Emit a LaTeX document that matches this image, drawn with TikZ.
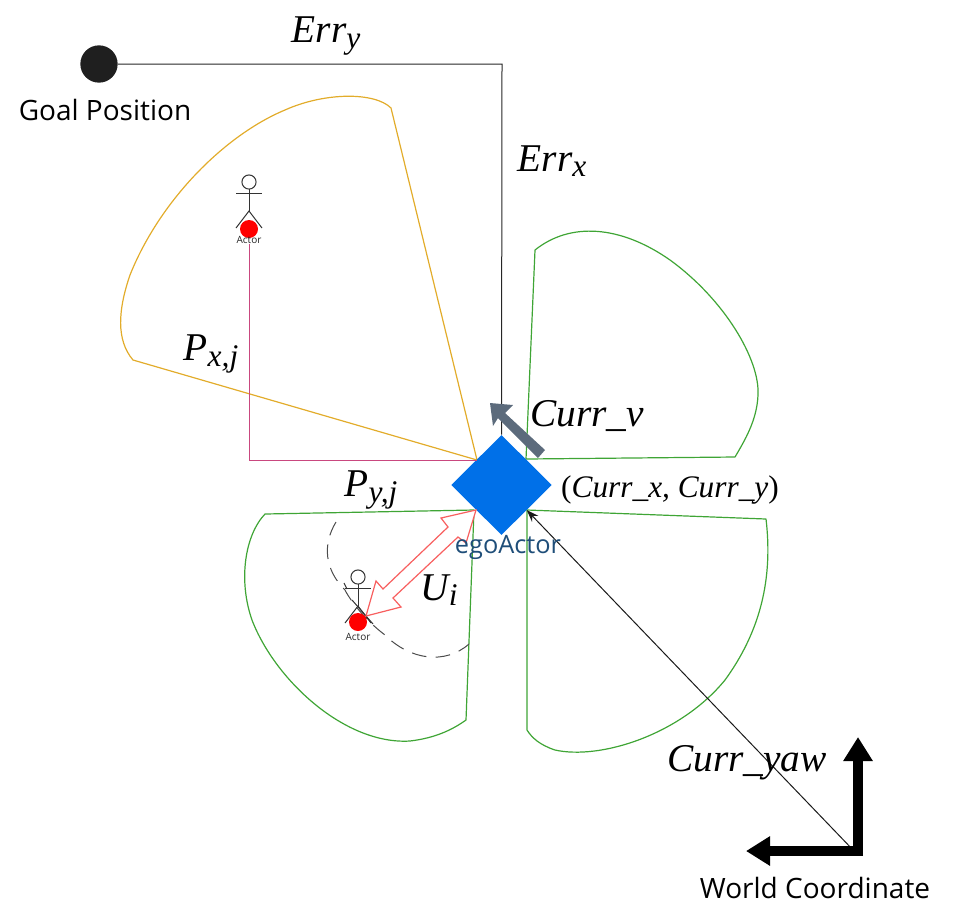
\documentclass[tikz,border=0pt]{standalone}
\usepackage{fontspec}
\setmainfont{Liberation Serif}
\newfontfamily\lblfont{Open Sans}
\usetikzlibrary{shapes.geometric,arrows.meta}
\definecolor{yel}{HTML}{E2AC2B}
\definecolor{grn}{HTML}{3FA535}
\definecolor{pnk}{HTML}{C9487F}
\definecolor{ego}{HTML}{0070E8}
\definecolor{egot}{HTML}{1F4E79}
\definecolor{gry}{HTML}{5C6B7C}
\definecolor{redl}{HTML}{F85F5F}
\newcommand{\mvar}[2]{\textit{#1}\raisebox{-0.3ex}{\scalebox{0.8}{\textit{#2}}}}
\tikzset{
  sector/.style={line width=0.9pt,line join=round},
  mathlbl/.style={font=\fontsize{29.5}{32}\selectfont\itshape,inner sep=0pt},
  sanslbl/.style={font=\lblfont\fontsize{21}{24}\selectfont,inner sep=0pt},
  actorline/.style={line width=0.75pt,black!80},
  dot/.style={circle,fill=red,inner sep=0pt,minimum size=13.5pt},
  actorlbl/.style={font=\lblfont\fontsize{7.5}{9}\selectfont,inner sep=0pt,black!85},
}
\newcommand{\stickman}[2]{%
  \draw[actorline] (#1,#2) circle (5.3pt);
  \draw[actorline] (#1,#2+7) -- (#1,#2+29);
  \draw[actorline] (#1-13,#2+11) -- (#1+13,#2+11);
  \draw[actorline] (#1-13,#2+46) -- (#1,#2+29) -- (#1+13,#2+46);
}
\begin{document}
\begin{tikzpicture}[x=0.75pt,y=-0.75pt]
\useasboundingbox (0,0) rectangle (969,922);
% sectors
\draw[sector,yel] (477,460) -- (391,108) .. controls (375,92) and (325,92) .. (285,110)
  .. controls (225,135) and (160,200) .. (130,275) .. controls (118,310) and (116,340) .. (133,360) -- cycle;
\draw[sector,grn] (526,459) -- (535,250) .. controls (570,222) and (620,225) .. (670,260)
  .. controls (725,300) and (760,360) .. (758,395) .. controls (757,420) and (745,440) .. (735,457) -- cycle;
\draw[sector,grn] (527,510) -- (766,519) .. controls (772,570) and (765,625) .. (725,680)
  .. controls (680,735) and (600,760) .. (555,750) .. controls (540,745) and (532,738) .. (527,730) -- cycle;
\draw[sector,grn] (474,510) -- (265,514) .. controls (245,535) and (238,580) .. (252,620)
  .. controls (275,680) and (345,745) .. (410,741) .. controls (435,738) and (452,730) .. (466,720) -- cycle;
% dashed arc
\draw[line width=0.75pt,black!70,dash pattern=on 11pt off 7pt]
  (336,522) .. controls (322,545) and (325,570) .. (345,590) .. controls (350,600) and (365,620) .. (385,635)
  .. controls (410,660) and (445,665) .. (469,644);
% goal and ego
\node[circle,fill=black!88,inner sep=0pt,minimum size=28pt] (goal) at (99,64) {};
\node[diamond,fill=ego,inner sep=0pt,minimum width=75.5pt,minimum height=75pt,aspect=1] (egoa) at (501.5,485) {};
\coordinate (errc) at (502,64);
\draw[line width=0.75pt,black!85] (goal) -- (errc) -- (egoa.north);
% actor 1
\stickman{249}{182}
\node[dot] (act1) at (249,229) {};
\node[actorlbl] (act1t) at (249,240) {Actor};
\coordinate (pc) at (249,460);
\coordinate (pe) at (477,460);
\draw[line width=0.75pt,pnk] (act1t.south) -- (pc) -- (pe);
% actor 2
\stickman{358}{577}
\draw[actorline] (352,600) -- (373,624);
\draw[actorline] (344,583) -- (347,589);
\node[dot] (act2) at (358,622) {};
\node[actorlbl] (act2t) at (358,637) {Actor};
% hollow arrow
\draw[redl,line width=0.9pt,line join=miter,fill=white]
  (366,616) -- (401,607) -- (393,598) -- (458,537) -- (466,543) -- (476,510)
  -- (441,518) -- (448,527) -- (383,589) -- (376,581) -- cycle;
% current velocity
\fill[gry] (490,403) -- (513,405) -- (505,413) -- (545,450) -- (538,458) -- (498,418) -- (493,426) -- cycle;
% yaw connector
\coordinate (wc) at (855,852);
\draw[line width=0.75pt,black!90,-{Stealth[length=9pt,width=6.5pt]}] (wc) -- (egoa.south east);
% world axes
\draw[line width=7.5pt,-{Triangle[length=18pt,width=21pt]}] (858,855) -- (858,737);
\draw[line width=7.5pt,-{Triangle[length=18pt,width=21pt]}] (863,851) -- (746,851);
% labels
\node[sanslbl] (goalt) at (105,110) {Goal Position};
\node[sanslbl,text=egot,font=\lblfont\fontsize{19}{21}\selectfont] (egot) at (508,547) {egoActor};
\node[sanslbl] (worldt) at (815,888) {World Coordinate};
\node[mathlbl] (lerry) at (326,36) {\mvar{Err}{y}};
\node[mathlbl] (lerrx) at (552,161) {\mvar{Err}{x}};
\node[mathlbl] (lpx) at (211,354) {\mvar{P}{x,j}};
\node[mathlbl] (lpy) at (371,490) {\mvar{P}{y,j}};
\node[mathlbl] (lui) at (439,590) {\mvar{U}{i}};
\node[mathlbl] (lv) at (587,416) {Curr\_v};
\node[mathlbl,font=\fontsize{23.5}{26}\selectfont\itshape] (lpos) at (670,490) {\textup{(}Curr\_x, Curr\_y\textup{)}};
\node[mathlbl] (lyaw) at (747,763) {Curr\_yaw};
\end{tikzpicture}
\end{document}
